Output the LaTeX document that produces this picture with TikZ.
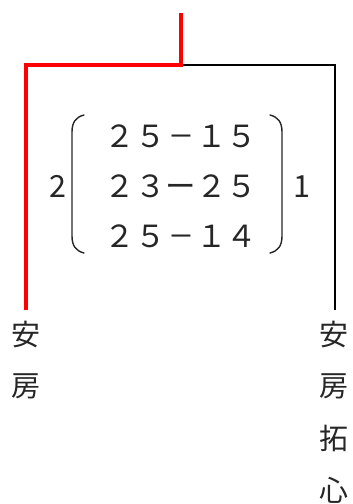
\documentclass[tikz,border=0pt]{standalone}
\usepackage{fontspec}
\usepackage{graphicx}
\newfontfamily\jp{Noto Sans CJK JP}
\newcommand{\shortdash}{\makebox[1em]{\scalebox{0.85}[1]{－}}}
\begin{document}
\begin{tikzpicture}[x=1pt,y=-1pt,
  redline/.style={draw=red,line width=4pt,line join=miter},
  blkline/.style={draw=black,line width=2pt,line join=miter},
  paren/.style={draw=black!85,line width=1.4pt,line cap=round},
  digits/.style={inner sep=0pt,anchor=base,font=\jp\fontsize{30.5}{30.5}\selectfont,text=black!85},
  kanji/.style={inner sep=0pt,anchor=center,font=\jp\fontsize{29}{29}\selectfont,text=black!85}]
\useasboundingbox (0,0) rectangle (353,504);
% junction coordinates
\coordinate (top) at (181,13);
\coordinate (j) at (181,65);
\coordinate (lc) at (26,65);
\coordinate (rc) at (335,65);
\coordinate (lend) at (26,310);
\coordinate (rend) at (335,310);
% black branch
\draw[blkline] (j) -- (rc) -- (rend);
% red branch
\draw[redline] (top) -- (j) -- (lc) -- (lend);
% matrix rows
\node[digits] (r1) at (181,147) {２５\shortdash１５};
\node[digits] (r2) at (181,197) {２３ー２５};
\node[digits] (r3) at (181,247) {２５\shortdash１４};
\node[digits] (lf) at (57.5,197) {2};
\node[digits] (rf) at (302,197) {1};
% parentheses
\draw[paren] (84,115) .. controls (76,117) and (72,122) .. (72,132) -- (72,236) .. controls (72,246) and (76,251) .. (84,253);
\draw[paren] (270,115) .. controls (278,117) and (282,122) .. (282,132) -- (282,236) .. controls (282,246) and (278,251) .. (270,253);
% labels
\node[kanji] (a1) at (26.5,334) {安};
\node[kanji] (a2) at (26.5,386) {房};
\node[kanji] (b1) at (333.5,334) {安};
\node[kanji] (b2) at (333.5,386) {房};
\node[kanji] (b3) at (333.5,438) {拓};
\node[kanji] (b4) at (333.5,490) {心};
\end{tikzpicture}
\end{document}
